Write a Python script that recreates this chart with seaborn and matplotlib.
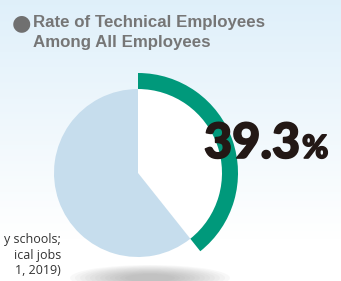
import numpy as np
import seaborn as sns
import matplotlib.pyplot as plt
import matplotlib.patheffects as pe
from matplotlib.patches import Ellipse

# data
labels = ['Technical', 'Other']
shares = [39.3, 60.7]
title_lines = ['Rate of Technical Employees', 'Among All Employees']
note_lines = ['y schools;', 'ical jobs', '1, 2019)']

green = '#00997b'
light_blue = '#c6dded'

sns.set_theme(style='white')
plt.rcParams['font.family'] = ['Liberation Sans', 'DejaVu Sans']

fig = plt.figure(figsize=(3.41, 2.81), dpi=100)
ax = fig.add_axes([0, 0, 1, 1])

# background gradient (light blue top -> white)
grad = np.linspace(0, 1, 256).reshape(-1, 1)
top = np.array([0.875, 0.94, 0.98])
bot = np.array([1.0, 1.0, 1.0])
t = np.clip(grad / 0.85, 0, 1)
img = top * (1 - t) + bot * t
ax.imshow(img[:, None, :].repeat(2, axis=1), extent=[0, 341, 0, 281], aspect='auto',
          origin='upper', zorder=0)

# soft shadow under the pie
for i in range(12):
    w = 160 - i * 10
    h = 26 - i * 1.6
    ax.add_patch(Ellipse((150, 3), w, h, color='#888888', alpha=0.05, lw=0, zorder=1))

cx, cy = 138, 281 - 173
# inner pie
ax.pie(shares, colors=['white', light_blue], startangle=90, counterclock=False,
       radius=84, center=(cx, cy), frame=True,
       wedgeprops=dict(linewidth=0), labels=None)
# outer ring on technical share
ax.pie(shares, colors=[green, 'none'], startangle=90, counterclock=False,
       radius=100, center=(cx, cy), frame=True,
       wedgeprops=dict(width=16, linewidth=0))

ax.set_xlim(0, 341)
ax.set_ylim(0, 281)
ax.set_aspect('equal')
ax.axis('off')

# big value
bold_fx = [pe.withStroke(linewidth=1.2, foreground='#231815')]
ax.text(204, 281 - 158, f'{shares[0]}', fontsize=35, fontweight='black', color='#231815',
        ha='left', va='baseline', zorder=5, family='Lato', path_effects=bold_fx)
ax.text(302, 281 - 158, '%', fontsize=23, fontweight='black', color='#231815',
        ha='left', va='baseline', zorder=5, family='Lato', path_effects=bold_fx)

# title
ax.text(12, 281 - 23, '●', fontsize=16, color='#707070', ha='left', va='center',
        family='DejaVu Sans')
ax.text(33, 281 - 23, title_lines[0], fontsize=12.2, fontweight='bold', color='#767676',
        ha='left', va='center')
ax.text(33, 281 - 42, title_lines[1], fontsize=12.2, fontweight='bold', color='#767676',
        ha='left', va='center')

# note (cut off at the left)
for i, line in enumerate(note_lines):
    ax.text(61, 281 - (239 + i * 16), line, fontsize=9, color='#333333',
            ha='right', va='center', family='Open Sans')

fig.savefig('out.png', dpi=100)
